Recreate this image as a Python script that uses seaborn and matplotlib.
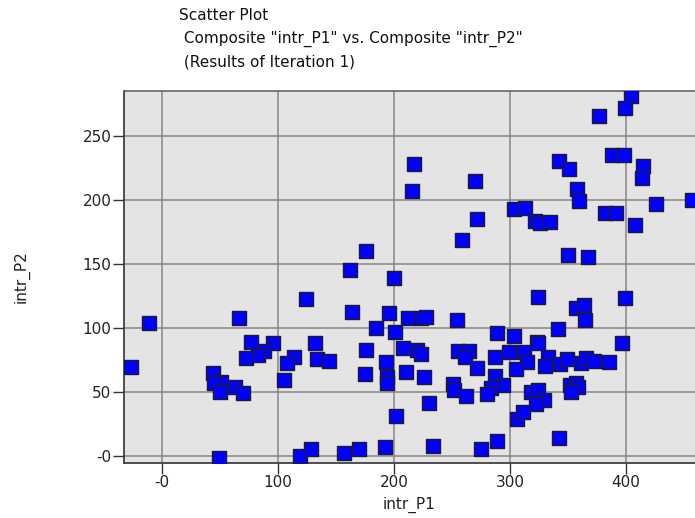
import matplotlib
matplotlib.use("Agg")
import matplotlib.pyplot as plt
import numpy as np
import pandas as pd
import seaborn as sns
from matplotlib.ticker import FixedLocator, FixedFormatter

# Composite values for each sample
intr_p1 = [
    -27.0, -10.9, 66.4, 124.4, 76.4, 95.4, 87.9, 83.0, 72.7, 113.5,
    108.0, 105.5, 43.7, 51.1, 44.8, 49.7, 62.9, 69.8, 49.1, 119.3,
    128.2, 131.6, 133.4, 144.3, 162.0, 200.0, 163.8, 195.7, 212.3, 223.3,
    227.6, 254.3, 184.7, 201.1, 288.8, 175.9, 207.5, 220.1, 223.3, 254.9,
    264.4, 260.9, 271.6, 287.4, 193.4, 175.3, 210.3, 226.1, 194.0, 194.0,
    250.6, 251.7, 262.3, 287.0, 294.2, 283.9, 279.9, 230.5, 202.0, 156.9,
    170.1, 192.0, 233.9, 275.0, 288.8, 324.1, 356.9, 364.1, 364.9, 398.9,
    341.1, 303.4, 323.0, 323.9, 396.8, 299.1, 312.1, 314.4, 332.5, 329.9,
    343.4, 348.9, 361.2, 365.5, 372.4, 385.3, 304.9, 318.1, 324.4, 329.6,
    322.7, 351.7, 356.9, 358.9, 352.8, 305.8, 311.5, 342.0, 217.5, 215.5,
    270.1, 271.8, 258.9, 175.9, 404.6, 399.4, 376.4, 342.5, 350.9, 387.9,
    398.0, 414.9, 413.8, 357.8, 359.8, 303.7, 313.2, 321.6, 325.9, 334.2,
    381.6, 391.4, 426.1, 456.9, 407.5, 349.7, 367.2,
]
intr_p2 = [
    69.5, 104.1, 107.5, 122.4, 89.3, 88.0, 82.0, 78.9, 76.6, 77.1,
    72.4, 59.6, 64.6, 57.6, 56.8, 49.8, 53.7, 49.2, -1.3, 0.0,
    5.5, 88.5, 75.5, 74.2, 145.5, 139.0, 112.5, 111.5, 107.5, 107.5,
    108.8, 106.2, 100.2, 96.6, 96.1, 83.0, 84.1, 82.8, 79.9, 82.3,
    82.3, 77.1, 69.0, 77.1, 73.4, 63.8, 65.4, 62.0, 61.5, 56.8,
    56.0, 51.6, 47.1, 62.8, 55.5, 52.9, 48.2, 41.1, 31.5, 2.6,
    5.2, 6.8, 8.1, 5.5, 11.7, 124.0, 115.4, 118.0, 106.3, 123.4,
    99.0, 93.8, 89.3, 88.0, 88.5, 81.0, 81.5, 73.7, 77.6, 70.3,
    71.9, 76.0, 72.4, 76.3, 74.5, 73.4, 68.0, 50.2, 51.6, 43.8,
    40.9, 55.5, 57.3, 53.7, 49.8, 28.9, 34.6, 13.8, 227.9, 207.0,
    214.6, 185.4, 168.5, 159.9, 281.5, 272.1, 265.4, 230.5, 224.2, 235.2,
    234.9, 226.3, 217.4, 208.6, 199.2, 193.2, 193.7, 183.8, 182.3, 182.8,
    189.8, 190.1, 196.9, 200.2, 180.2, 157.3, 155.5,
]

x_ticks = [0, 100, 200, 300, 400]
x_tick_labels = ["-0", "100", "200", "300", "400"]
y_ticks = [0, 50, 100, 150, 200, 250]
y_tick_labels = ["-0", "50", "100", "150", "200", "250"]

title_lines = [
    "Scatter Plot",
    ' Composite "intr_P1" vs. Composite "intr_P2"',
    " (Results of Iteration 1)",
]

df = pd.DataFrame({"intr_P1": intr_p1, "intr_P2": intr_p2})

plt.rcParams["font.family"] = ["DejaVu Sans"]

W, H = 695, 518
fig = plt.figure(figsize=(W / 100, H / 100), dpi=100)
left, right, top, bottom = 124, 695, 91, 462.5
ax = fig.add_axes([left / W, 1 - bottom / H, (right - left) / W, (bottom - top) / H])
ax.set_facecolor("#e4e4e4")

sns.scatterplot(
    data=df, x="intr_P1", y="intr_P2", ax=ax,
    marker="s", s=90, color="#0000ff", edgecolor="#1c1c2e", linewidth=1.0,
    zorder=3, clip_on=True,
)

ax.set_xlim(-32.8, 459.5)
ax.set_ylim(-5.1, 285.2)

ax.xaxis.set_major_locator(FixedLocator(x_ticks))
ax.xaxis.set_major_formatter(FixedFormatter(x_tick_labels))
ax.yaxis.set_major_locator(FixedLocator(y_ticks))
ax.yaxis.set_major_formatter(FixedFormatter(y_tick_labels))

ax.grid(True, color="#858585", linewidth=1.1, zorder=1)
ax.set_axisbelow(True)
ax.tick_params(axis="both", length=8, width=1, color="#333333",
               labelsize=11, labelcolor="#222222", pad=1)

for side in ("left", "bottom"):
    ax.spines[side].set_color("#333333")
    ax.spines[side].set_linewidth(1.2)
ax.spines["top"].set_color("#666666")
ax.spines["top"].set_linewidth(1.2)
ax.spines["right"].set_visible(False)

ax.set_xlabel("intr_P1", fontsize=11, color="#222222", labelpad=5)
ax.set_ylabel("intr_P2", fontsize=11, color="#222222", labelpad=38)

for i, line in enumerate(title_lines):
    fig.text(179 / W, 1 - (15 + i * 23.5) / H, line, fontsize=11,
             color="#111111", ha="left", va="center")

fig.savefig("out.png", dpi=100)
